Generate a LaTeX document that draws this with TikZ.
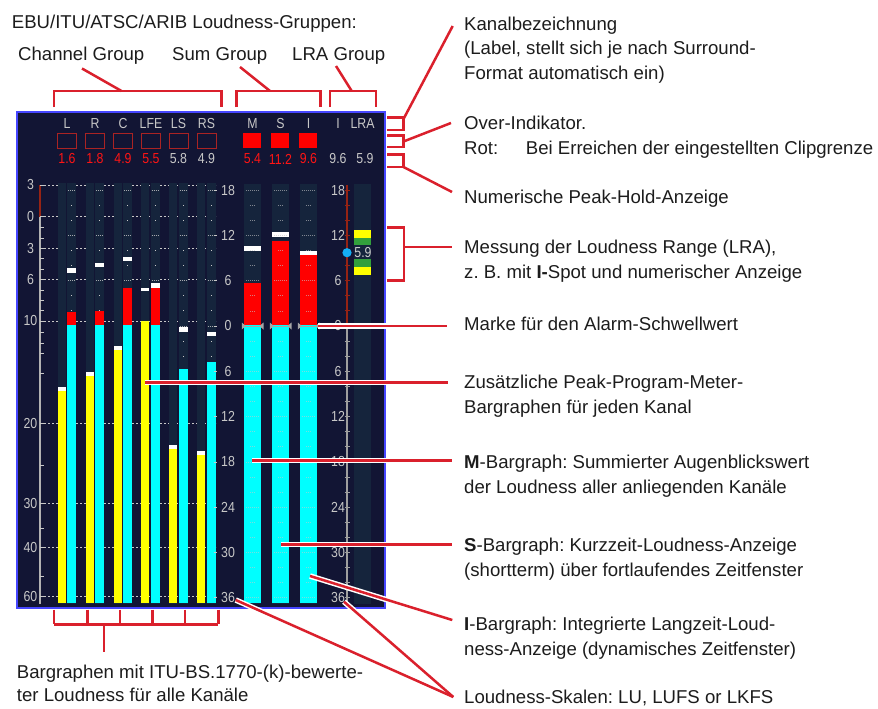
\documentclass[tikz,border=0pt]{standalone}
\usepackage{fontspec}
\setmainfont{Liberation Sans}
\newfontfamily\mfont[FakeStretch=0.85]{Liberation Sans}
\usetikzlibrary{calc}
\frenchspacing
\definecolor{ann}{RGB}{218,32,44}
\definecolor{panel}{RGB}{18,21,52}
\definecolor{panelborder}{RGB}{70,70,255}
\definecolor{track}{RGB}{21,36,60}
\definecolor{mtext}{RGB}{200,200,200}
\definecolor{mred}{RGB}{255,20,20}
\definecolor{txt}{RGB}{28,28,28}
\definecolor{ovred}{RGB}{170,35,35}
\definecolor{scalered}{RGB}{150,35,20}
\definecolor{lragreen}{RGB}{50,160,60}
\definecolor{spot}{RGB}{20,175,245}
\definecolor{barcyan}{RGB}{0,255,255}
\definecolor{baryellow}{RGB}{255,255,0}
\definecolor{barred}{RGB}{255,0,0}
\tikzset{
  lbl/.style={anchor=base west, inner sep=0pt, text=txt, font=\fontsize{18.6}{22}\selectfont},
  mt/.style={inner sep=0pt, text=mtext, font=\mfont\fontsize{14.5}{15}\selectfont},
  mtr/.style={mt, text=mred},
  leader/.style={draw=ann, line width=2.5pt},
  haloline/.style={draw=white, line width=5.5pt},
  tick/.style={draw=mtext, line width=0.8pt},
}
\begin{document}
\begin{tikzpicture}[x=1pt,y=-1pt]
\useasboundingbox (0,0) rectangle (878,709);
% ---------- panel ----------
\fill[panel] (17,112) rectangle (385,608);
\draw[panelborder, line width=1.5pt] (17,112) rectangle (385,608);
% left-scale dashed guide lines
\foreach \y in {185,216.7,248.3,279.5,321,423.3,503.3,547.3,596.7}
  \draw[mtext, dash pattern=on 2pt off 2pt, line width=0.7pt] (44,\y) -- (216,\y);
% channel tracks
\foreach \i in {0,...,5} {
  \pgfmathsetmacro\xa{57.7+27.9*\i}
  \fill[track] (\xa,183) rectangle (\xa+8,604);
  \fill[track] (\xa+9.3,183) rectangle (\xa+18.6,604);
  \foreach \v in {18,16,...,-36} {
    \pgfmathsetmacro\yy{326-7.55*\v}
    \pgfmathtruncatemacro\ism{mod(abs(\v),6)}
    \ifnum\ism=0
      \draw[mtext, opacity=0.8, dash pattern=on 1pt off 1pt, line width=0.8pt] (\xa+10.3,\yy) -- (\xa+17.6,\yy);
    \else
      \fill[mtext] (\xa+13.5,\yy-0.5) rectangle (\xa+14.5,\yy+0.5);
    \fi
  }
}
% channel bars
\foreach \i/\yc/\yt/\ct/\pa/\pb in {0/386.7/390.7/312.3/268/273, 1/371.7/375.7/311/262.7/267,
    2/346/350/288/256.7/261, 3/321/321/288/283.3/288, 4/445.3/449.3/369/327/331.7, 5/451/455/362/332/336} {
  \pgfmathsetmacro\xa{57.7+27.9*\i}
  \pgfmathsetmacro\cb{max(\ct,325.3)}
  \fill[baryellow] (\xa,\yt) rectangle (\xa+8,603);
  \fill[white] (\xa,\yc) rectangle (\xa+8,\yt);
  \fill[barred] (\xa+9.3,\ct) rectangle (\xa+18.6,\cb);
  \fill[barcyan] (\xa+9.3,\cb) rectangle (\xa+18.6,603);
  \fill[white] (\xa+9.3,\pa) rectangle (\xa+18.6,\pb);
}
\fill[white] (141.4,288) rectangle (149.4,290.5);
% sum tracks and bars
\foreach \j/\rt/\pa/\pb in {0/283.3/246/250.7, 1/240.7/232/236.7, 2/255.3/251/255.3} {
  \pgfmathsetmacro\xs{244.3+28*\j}
  \fill[track] (\xs,184) rectangle (\xs+16.7,604);
  \fill[barred] (\xs,\rt) rectangle (\xs+16.7,325.3);
  \fill[barcyan] (\xs,325.3) rectangle (\xs+16.7,603);
  \fill[white] (\xs,\pa) rectangle (\xs+16.7,\pb);
  \foreach \v in {18,16,...,-36} {
    \pgfmathsetmacro\yy{326-7.55*\v}
    \pgfmathtruncatemacro\ism{mod(abs(\v),6)}
    \ifnum\ism=0
      \draw[mtext, opacity=0.6, dash pattern=on 1pt off 1pt, line width=0.8pt] (\xs+1.5,\yy) -- (\xs+15.2,\yy);
    \else
      \draw[mtext, opacity=0.6, dash pattern=on 1pt off 1pt, line width=0.8pt] (\xs+5.5,\yy) -- (\xs+11.2,\yy);
    \fi
  }
  % alarm threshold marker
  \draw[gray!70, line width=1pt] (\xs-1.5,326) -- (\xs+18.2,326);
  \fill[gray!70] (\xs-2.5,322.5) -- (\xs+1.5,326) -- (\xs-2.5,329.5) -- cycle;
  \fill[gray!70] (\xs+19.2,322.5) -- (\xs+15.2,326) -- (\xs+19.2,329.5) -- cycle;
}
% ---------- left scale ----------
\draw[scalered, line width=1.3pt] (40,185) -- (40,216.7);
\draw[gray!60, line width=1.3pt] (40,216.7) -- (40,604);
\foreach \y in {185,216.7,248.3,279.5,321,423.3,503.3,547.3,596.7}
  \draw[tick] (40,\y) -- (45,\y);
\foreach \y in {227.3,238.3,258.3,269,290,300,310,332.3,343.3,353.3,373.3,465,528.3,576.7}
  \draw[tick] (40,\y) -- (44,\y);
\foreach \y/\t [count=\k] in {185/3,216.7/0,248.3/3,279.5/6,321/10,423.3/20,503.3/30,547.3/40,596.7/60}
  \node[mt] (ls\k) at (30.5,\y) {\t};
% channel right scale and sum/LRA scale labels
\foreach \v/\t [count=\k] in {18/18,12/12,6/6,0/0,-6/6,-12/12,-18/18,-24/24,-30/30,-36/36} {
  \pgfmathsetmacro\yy{326-7.55*\v}
  \draw[tick] (213.5,\yy) -- (217,\yy);
  \node[mt] (rs\k) at (228,\yy) {\t};
  \node[mt] (ss\k) at (338,\yy) {\t};
}
% LRA scale line
\draw[scalered, line width=1.6pt] (347,185) -- (347,326);
\draw[gray!75, line width=1.6pt] (347,326) -- (347,604);
\foreach \v in {18,16,...,-36} {
  \pgfmathsetmacro\yy{326-7.55*\v}
  \pgfmathparse{\v>0 ? "scalered" : "gray!75"}
  \draw[\pgfmathresult, line width=1pt] (344.5,\yy) -- (349.5,\yy);
}
% LRA track
\fill[track] (354.3,184) rectangle (370.7,604);
\fill[baryellow] (354.3,230) rectangle (370.7,238.3);
\fill[lragreen] (354.3,238.3) rectangle (370.7,245);
\fill[lragreen] (354.3,259.3) rectangle (370.7,266.7);
\fill[baryellow] (354.3,266.7) rectangle (370.7,275);
\node[mt, text=mtext!90!white] (lraval) at (363,252.7) {5.9};
\fill[spot] (347,252.7) circle (4.6);
% ---------- top labels in panel ----------
\foreach \x/\t [count=\k] in {67/L,95/R,123/C,151/LFE,178.5/LS,206.5/RS,252.5/M,280.5/S,308.5/I,338/I,362.5/LRA}
  \node[mt] (hl\k) at (\x,123.5) {\t};
\foreach \x [count=\k] in {67,95,123,151,178.5,206.5}
  \draw[ovred, line width=1pt] (\x-9.5,133.5) rectangle (\x+9.5,148) node[inner sep=0pt] (ov\k) {};
\foreach \x [count=\k] in {252,280,308}
  \fill[barred] (\x-9,133) rectangle (\x+9,148) node[inner sep=0pt] (ovs\k) {};
\foreach \x/\t [count=\k] in {67/1.6,95/1.8,123/4.9,151/5.5,252.5/5.4,280.5/11.2,308.5/9.6}
  \node[mtr] (nr\k) at (\x,159) {\t};
\foreach \x/\t [count=\k] in {178.5/5.8,206.5/4.9,338/9.6,365/5.9}
  \node[mt] (nw\k) at (\x,159) {\t};
% ---------- annotation texts ----------
\node[lbl] (tEBU) at (11.7,28.3) {EBU/ITU/ATSC/ARIB Loudness-Gruppen:};
\node[lbl] (tCG) at (18,60.7) {Channel Group};
\node[lbl] (tSG) at (172,60.7) {Sum Group};
\node[lbl] (tLG) at (292,60.7) {LRA Group};
\node[lbl] (tK1) at (464,30.5) {Kanalbezeichnung};
\node[lbl] (tK2) at (464,55) {(Label, stellt sich je nach Surround-};
\node[lbl] (tK3) at (464,79.5) {Format automatisch ein)};
\node[lbl] (tO1) at (464,129.3) {Over-Indikator.};
\node[lbl] (tO2) at (464,154) {Rot:};
\node[lbl] (tO3) at (525.7,154) {Bei Erreichen der eingestellten Clipgrenze};
\node[lbl] (tN) at (464,203.5) {Numerische Peak-Hold-Anzeige};
\node[lbl] (tL1) at (464,253.3) {Messung der Loudness Range (LRA),};
\node[lbl] (tL2) at (464,278.3) {z. B. mit \textbf{I-}Spot und numerischer Anzeige};
\node[lbl] (tA) at (464,330) {Marke für den Alarm-Schwellwert};
\node[lbl] (tP1) at (464,388.3) {Zusätzliche Peak-Program-Meter-};
\node[lbl] (tP2) at (464,413.3) {Bargraphen für jeden Kanal};
\node[lbl] (tM1) at (464,468.3) {\textbf{M}-Bargraph: Summierter Augenblickswert};
\node[lbl] (tM2) at (464,493.3) {der Loudness aller anliegenden Kanäle};
\node[lbl] (tS1) at (464,551.7) {\textbf{S}-Bargraph: Kurzzeit-Loudness-Anzeige};
\node[lbl] (tS2) at (464,576.7) {(shortterm) über fortlaufendes Zeitfenster};
\node[lbl] (tI1) at (464,630) {\textbf{I}-Bargraph: Integrierte Langzeit-Loud-};
\node[lbl] (tI2) at (464,655.5) {ness-Anzeige (dynamisches Zeitfenster)};
\node[lbl] (tLS) at (464,703.5) {Loudness-Skalen: LU, LUFS or LKFS};
\node[lbl] (tB1) at (16.7,678.3) {Bargraphen mit ITU-BS.1770-(k)-bewerte-};
\node[lbl] (tB2) at (16.7,701.7) {ter Loudness für alle Kanäle};
% ---------- leader coordinates ----------
\coordinate (cgA) at (121.5,91);   \coordinate (cgB) at (82,68.5);
\coordinate (sgA) at (270,91);     \coordinate (sgB) at (240,67);
\coordinate (lgA) at (351.7,91);   \coordinate (lgB) at (336,66);
\coordinate (kA) at (403.5,119);   \coordinate (kB) at (452.7,26);
\coordinate (oA) at (403.5,141.5); \coordinate (oB) at (451,123);
\coordinate (pA) at (403.5,167);   \coordinate (pB) at (452,192);
\coordinate (lA) at (404,247);     \coordinate (lB) at (451.7,247);
\coordinate (aA) at (318,326);     \coordinate (aB) at (447,326);
\coordinate (ppA) at (145,382.3);  \coordinate (ppB) at (447.7,382.3);
\coordinate (mA) at (252,460.5);   \coordinate (mB) at (452.3,460.5);
\coordinate (sA) at (281,544.3);   \coordinate (sB) at (452.3,544.3);
\coordinate (iA) at (310,576);     \coordinate (iB) at (452.3,620);
\coordinate (scA) at (235.7,600);  \coordinate (scB) at (344,601.7);
\coordinate (scC) at (453.3,697);
\coordinate (bbS) at (104,651.7);
% halos for leaders crossing the panel
\draw[haloline] (aA) -- (aB);
\draw[haloline] (ppA) -- (ppB);
\draw[haloline] (mA) -- (mB);
\draw[haloline] (sA) -- (sB);
\draw[haloline] (iA) -- (iB);
\draw[haloline] (scA) -- (scC);
\draw[haloline] (scB) -- (scC);
% leaders
\draw[leader] (54,107) -- (54,91) -- (221.7,91) -- (221.7,107);
\draw[leader] (cgA) -- (cgB);
\draw[leader] (236.7,107) -- (236.7,91) -- (320.7,91) -- (320.7,107);
\draw[leader] (sgA) -- (sgB);
\draw[leader] (330,107) -- (330,91) -- (376,91) -- (376,107);
\draw[leader] (lgA) -- (lgB);
\draw[leader] (387,117.3) -- (403.5,117.3) -- (403.5,130) -- (387,130);
\draw[leader] (kA) -- (kB);
\draw[leader] (387,135.5) -- (403.5,135.5) -- (403.5,147) -- (387,147);
\draw[leader] (oA) -- (oB);
\draw[leader] (387,154.5) -- (403.5,154.5) -- (403.5,167) -- (387,167);
\draw[leader] (pA) -- (pB);
\draw[leader] (387,227.5) -- (404,227.5) -- (404,280.5) -- (387,280.5);
\draw[leader] (lA) -- (lB);
\draw[leader] (aA) -- (aB);
\draw[leader] (ppA) -- (ppB);
\draw[leader] (mA) -- (mB);
\draw[leader] (sA) -- (sB);
\draw[leader] (iA) -- (iB);
\draw[leader] (scA) -- (scC);
\draw[leader] (scB) -- (scC);
% bottom bracket
\foreach \x in {54,87.3,120,152.3,185,218.3}
  \draw[leader] (\x,609.5) -- (\x,624.3);
\draw[leader] (54,624.3) -- (218.3,624.3);
\draw[leader] (104,624.3) -- (bbS);
\end{tikzpicture}
\end{document}
